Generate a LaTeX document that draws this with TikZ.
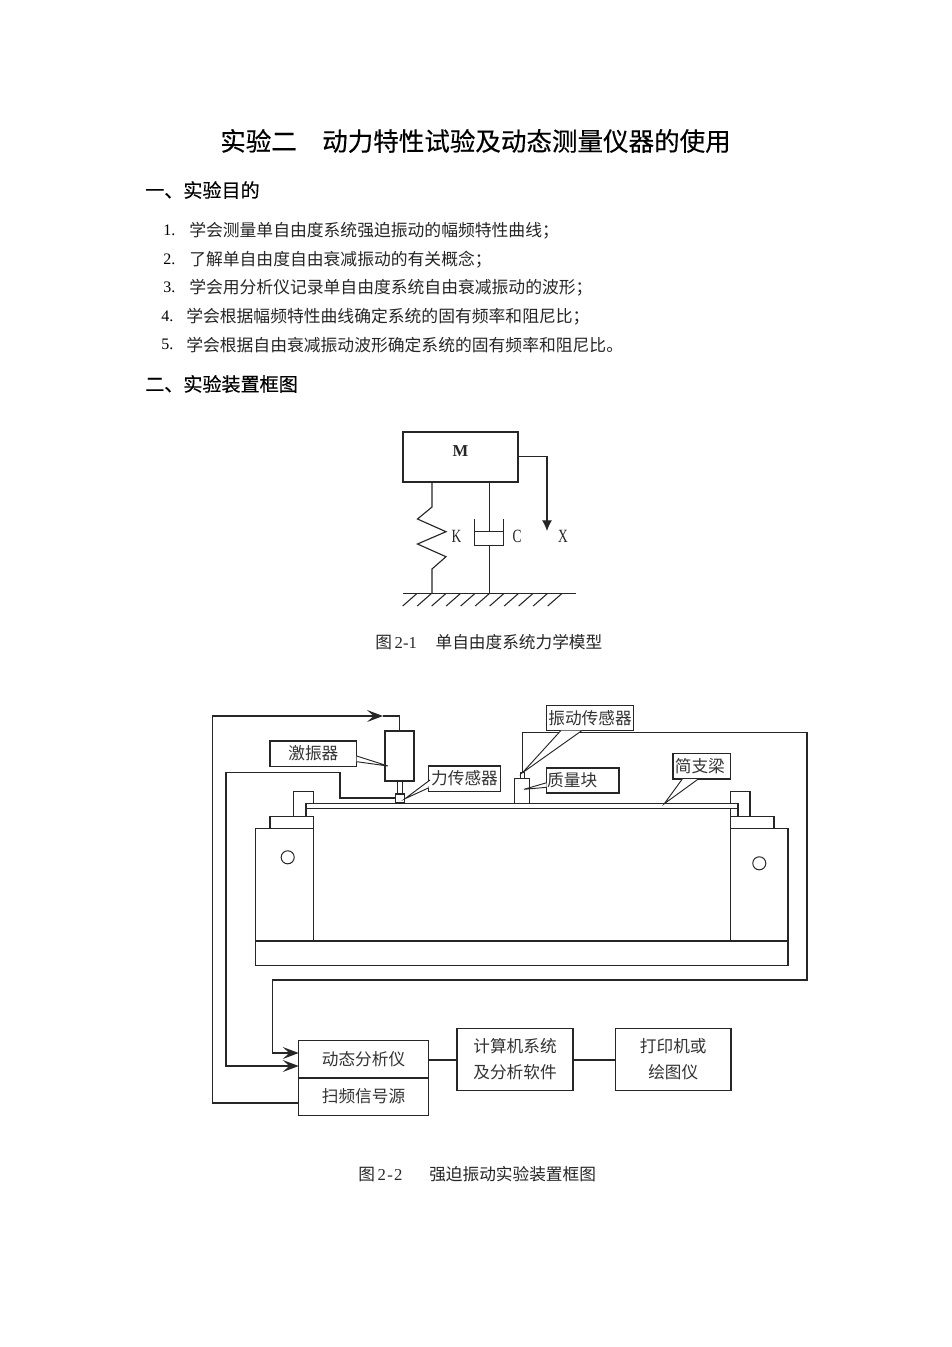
\documentclass[tikz,border=0pt]{standalone}
\usepackage{fontspec}
\setmainfont{Liberation Serif}
\newfontfamily\cjk{Noto Sans CJK SC}
\newfontfamily\cjkm[FakeBold=0.35]{Noto Sans CJK SC}
\newfontfamily\narrowlat[FakeStretch=0.72]{Liberation Serif}
\usetikzlibrary{arrows.meta}
\newcommand{\pbox}[6]{\node[pblock,minimum width={(#4-#2)*0.75pt},minimum height={(#5-#3)*0.75pt}] (#1) at ({(#2+#4)/2},{(#3+#5)/2}) {#6};}
\newcommand{\bodyline}[5]{\node[num] (n#1) at (#2,#4) {#1.}; \node[txt] (t#1) at (#3,#4) {#5};}
\newcommand{\dn}[2][-0.9pt]{\raisebox{#1}{#2}}
\tikzset{
  x=0.75pt,y=-0.75pt,
  ln/.style={line width=0.85pt,black!85,line join=miter},
  thinln/.style={line width=0.8pt,black!85},
  pblock/.style={draw=black!85,fill=white,line width=0.85pt,inner sep=0pt,outer sep=0pt,font=\cjk\fontsize{12.5pt}{18pt}\selectfont,text=black!80,align=center},
  txt/.style={anchor=west,inner sep=0pt,font=\cjk\fontsize{12.6pt}{15pt}\selectfont,text=black!85},
  num/.style={anchor=west,inner sep=0pt,font=\fontsize{12pt}{15pt}\selectfont},
  head/.style={anchor=west,inner sep=0pt,font=\cjkm\fontsize{14.3pt}{17pt}\selectfont},
  lat/.style={inner sep=0pt,font=\narrowlat\fontsize{14pt}{16pt}\selectfont,text=black!85},
  barb/.style={-{Stealth[length=12pt,width=9pt,inset=5pt]}},
  drop/.style={-{Latex[length=8pt,width=7.5pt]}},
  calloutp/.style={draw=black!85,fill=white,line width=0.7pt,line join=miter},
}
\begin{document}
\begin{tikzpicture}
\useasboundingbox[fill=white] (0,0) rectangle (952,1347);
% Text block
\node[inner sep=0pt,font=\cjkm\fontsize{19.15pt}{22pt}\selectfont] (title) at (475.5,141) {实验二\hspace{19pt}动力特性试验及动态测量仪器的使用};
\node[head] (h1) at (145,190) {一、实验目的};
\bodyline{1}{163}{189}{230.6}{学会测量单自由度系统强迫振动的幅频特性曲线；}
\bodyline{2}{163}{189}{259.4}{了解单自由度自由衰减振动的有关概念；}
\bodyline{3}{163}{189}{287.6}{学会用分析仪记录单自由度系统自由衰减振动的波形；}
\bodyline{4}{161}{186}{316.4}{学会根据幅频特性曲线确定系统的固有频率和阻尼比；}
\bodyline{5}{161}{186}{344.6}{学会根据自由衰减振动波形确定系统的固有频率和阻尼比。}
\node[head] (h2) at (145,384) {二、实验装置框图};

% Figure 2-1
\pbox{mass}{403}{432}{518}{482}{}
\node[inner sep=0pt,font=\bfseries\fontsize{12.5pt}{14pt}\selectfont,text=black!85] (mlab) at (460.5,451) {M};
\coordinate (gl) at (403,593.7);
\coordinate (gr) at (576,593.7);
\draw[ln] (gl) -- (gr);
\foreach \i in {0,...,10} \draw[thinln] ({416.7+14.5*\i},593.7) -- ({402.7+14.5*\i},606);
% spring
\coordinate (spTop) at (432,482);
\coordinate (spBot) at (432,593.7);
\draw[ln] (spTop) -- (432,507) -- (417.5,519) -- (446,531.7) -- (417.5,544) -- (446,556.7) -- (432,569) -- (spBot);
% damper
\coordinate (daTop) at (489.3,482);
\coordinate (daBot) at (489.3,593.7);
\coordinate (piston) at (489.3,531.7);
\draw[ln] (daTop) -- (piston);
\draw[ln] (474.5,531.7) -- (503.7,531.7);
\draw[ln] (474.5,519) -- (474.5,545.3) -- (503.7,545.3) -- (503.7,519);
\draw[ln] (489.3,545.3) -- (daBot);
% displacement arrow
\coordinate (xTip) at (547,531);
\draw[ln,drop] (mass.east |- 0,456.5) -| (xTip);
\node[lat] (k) at (456.5,536) {K};
\node[lat] (c) at (517,536) {C};
\node[lat] (xl) at (563,536) {X};
\node[txt,font=\fontsize{12.5pt}{15pt}\selectfont] (cap1) at (375,642) {{\cjk 图}\,2-1\hspace{14pt}{\cjk 单自由度系统力学模型}};

% Figure 2-2 frame
\pbox{base}{255.7}{941}{788}{965.7}{}
\pbox{blockL}{255.7}{828.7}{313.3}{941}{}
\pbox{blockR}{730.7}{828.7}{788}{941}{}
\pbox{padL}{270}{816.3}{313.3}{828.7}{}
\pbox{padR}{730.7}{816.3}{774}{828.7}{}
\coordinate (postLa) at (293.7,816.3);
\coordinate (postLb) at (293.7,791.3);
\coordinate (postLc) at (313.3,791.3);
\coordinate (postLd) at (313.3,803.7);
\draw[ln] (postLa) -- (postLb) -- (postLc) -- (postLd);
\pbox{postR}{730.7}{791.3}{750}{816.3}{}
\node[draw=black!85,line width=0.75pt,circle,minimum size=9.8pt,inner sep=0pt] (holeL) at (287.7,857.3) {};
\node[draw=black!85,line width=0.75pt,circle,minimum size=9.8pt,inner sep=0pt] (holeR) at (759.3,863.3) {};
\draw[ln] (306,816.3) -- (306,803.7);
\draw[ln] (738,816.3) -- (738,803.7);
\pbox{beam}{306}{803.7}{738}{808.3}{}
% Instruments
\pbox{shaker}{385}{731}{414}{781}{}
\pbox{force}{395.7}{794}{404.3}{802.7}{}
\draw[ln] (397.3,781) -- (397.3,794);
\draw[ln] (402.3,781) -- (402.3,794);
\pbox{massblock}{514.3}{778.7}{529.7}{803.7}{}
\pbox{sensor}{520.7}{772.7}{524.3}{778.7}{}

% Lower blocks
\pbox{analyser}{298.7}{1040.7}{428.3}{1078}{\dn{动态分析仪}}
\pbox{sweep}{298.7}{1078}{428.3}{1115.3}{\dn{扫频信号源}}
\pbox{computer}{457}{1028.3}{573}{1090.3}{\dn{计算机系统}\\[2pt]\dn{及分析软件}}
\pbox{printer}{615.5}{1028.3}{731}{1090.3}{\dn{打印机或}\\[2pt]\dn{绘图仪}}

% Wiring
\coordinate (sweepOut) at (298.7,1103);
\coordinate (fbCornerB) at (212.5,1103);
\coordinate (fbCornerT) at (212.5,716);
\coordinate (fbMid) at (383,716);
\draw[ln,barb] (sweepOut) -- (fbCornerB) -- (fbCornerT) -- (fbMid);
\draw[ln] (fbMid) -| (shaker.north);
\coordinate (forceOut) at (395.7,798);
\coordinate (anaIn2) at (298.7,1066);
\coordinate (anaIn1) at (298.7,1053);
\draw[ln,barb] (forceOut) -- (340,798) -- (340,772.7) -- (226,772.7) |- (anaIn2);
\draw[ln,barb] (sensor.north) -- (sensor.north |- 0,732.7) -- (807,732.7) -- (807,980) -- (272.3,980) |- (anaIn1);
\draw[ln] (analyser.east |- 0,1060) -- (computer.west |- 0,1060);
\draw[ln] (computer.east |- 0,1060) -- (printer.west |- 0,1060);

% Callout labels
\pbox{lshaker}{270}{741}{356.7}{766.3}{\dn[-1.3pt]{激振器}}
\pbox{lforce}{428.3}{766}{500.7}{791.3}{\dn[-2pt]{力传感器}}
\pbox{lvib}{546.7}{705.3}{633.3}{730.7}{\dn[-0.6pt]{振动传感器}}
\pbox{lmass}{546.7}{768}{619}{793}{\dn{质量块}\hspace*{16pt}}
\pbox{lbeam}{673}{753.7}{730.7}{779}{\dn[-0.6pt]{简支梁}\hspace*{3pt}}
\draw[calloutp] (356.7,756) -- (388,766) -- (356.7,761.7);
\draw[calloutp] (430,780) -- (405,798.7) -- (428.3,788);
\draw[calloutp] (560.7,730.7) -- (sensor.north) -- (581.7,730.7);
\draw[calloutp] (546.7,782.7) -- (524,789.3) -- (546.7,787.3);
\draw[calloutp] (682.3,779) -- (664.3,803.7) -- (698.3,779);
\node[txt,font=\fontsize{12.5pt}{15pt}\selectfont] (cap2) at (358,1174) {{\cjk 图}\,2\kern1pt-\kern1pt2\hspace{20pt}{\cjk 强迫振动实验装置框图}};
\end{tikzpicture}
\end{document}
